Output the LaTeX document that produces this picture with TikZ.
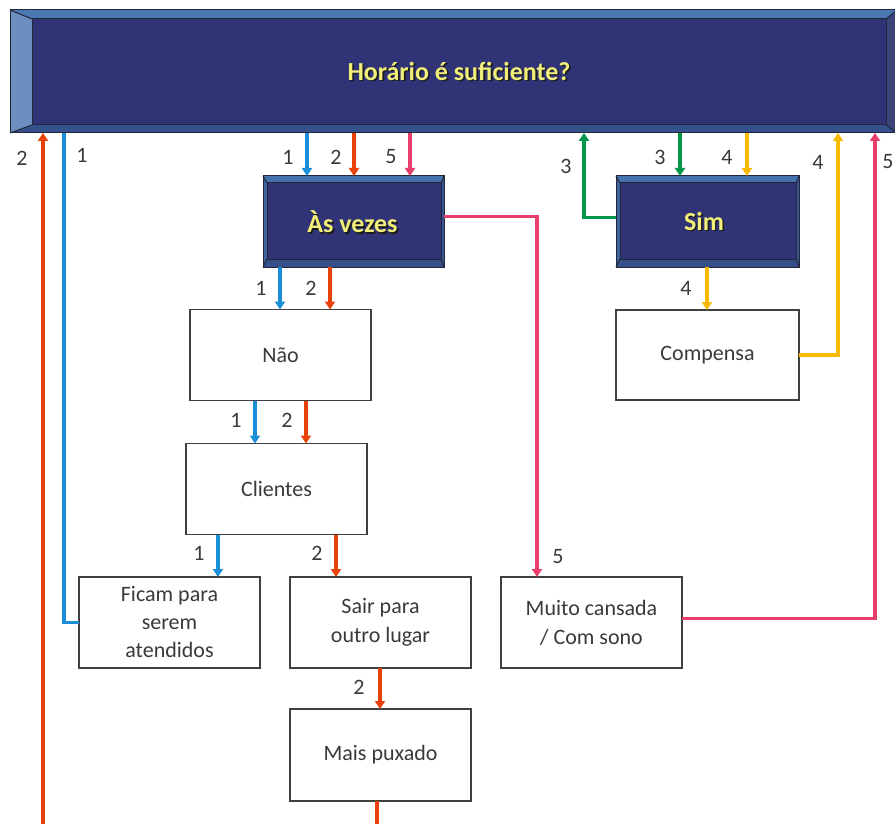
\documentclass[tikz,border=0pt]{standalone}
\usepackage{fontspec}
\setmainfont{Carlito}
\usetikzlibrary{arrows.meta,calc}

\definecolor{face}{HTML}{303476}
\definecolor{txtyellow}{HTML}{F2EE7A}
\definecolor{txtshadow}{HTML}{1A1A1A}
\definecolor{ink}{HTML}{3A3A3A}
\definecolor{boxline}{HTML}{404040}
\definecolor{edgeline}{HTML}{22263A}
\definecolor{btop}{HTML}{4574AC}
\definecolor{bbot}{HTML}{35508A}
\definecolor{bleft}{HTML}{3E64A0}
\definecolor{bright}{HTML}{3A5590}
\definecolor{Btop}{HTML}{4A78B0}
\definecolor{Bbot}{HTML}{35518C}
\definecolor{Bleft}{HTML}{6C8FC0}
\definecolor{Bright}{HTML}{3A4479}
\definecolor{cblueC}{HTML}{1A8ED8}
\definecolor{corangeC}{HTML}{E8420B}
\definecolor{cpinkC}{HTML}{E83E6C}
\definecolor{cgreenC}{HTML}{00964B}
\definecolor{cyellowC}{HTML}{F7BA00}

\tikzset{
  bevtop/.style={fill=btop},
  bevbot/.style={fill=bbot},
  bevleft/.style={fill=bleft},
  bevright/.style={fill=bright},
  bevline/.style={draw=edgeline, line width=1pt},
  bevnode/.style={fill=face, inner sep=0pt, outer sep=0pt},
  plainbox/.style={draw=boxline, line width=1.2pt, fill=white, inner sep=0pt, outer sep=0pt,
    minimum width=181pt, minimum height=91pt, align=center, text=ink,
    font=\fontsize{22}{28}\selectfont},
  numlabel/.style={text=ink, font=\fontsize{22}{24}\selectfont, inner sep=0pt},
  conn/.style={line width=3.5pt},
  tip/.style={-{Triangle[width=10pt,length=8pt]}},
  cblue/.style={conn, draw=cblueC},
  corange/.style={conn, draw=corangeC},
  cpink/.style={conn, draw=cpinkC},
  cgreen/.style={conn, draw=cgreenC},
  cyellow/.style={conn, draw=cyellowC},
}

% bevelled frame around a node: name, left, top, right, bottom insets
\newcommand\drawbevel[5]{%
  \fill[bevtop] (#1.north west) -- (#1.north east) -- ($(#1.north east)+(-#4,#3)$) -- ($(#1.north west)+(#2,#3)$) -- cycle;
  \fill[bevbot] (#1.south west) -- (#1.south east) -- ($(#1.south east)+(-#4,-#5)$) -- ($(#1.south west)+(#2,-#5)$) -- cycle;
  \fill[bevleft] (#1.north west) -- ($(#1.north west)+(#2,#3)$) -- ($(#1.south west)+(#2,-#5)$) -- (#1.south west) -- cycle;
  \fill[bevright] (#1.north east) -- ($(#1.north east)+(-#4,#3)$) -- ($(#1.south east)+(-#4,-#5)$) -- (#1.south east) -- cycle;
  \draw[bevline] ($(#1.north west)+(#2,#3)$) rectangle ($(#1.south east)+(-#4,-#5)$);
  \draw[bevline] (#1.north west) -- ++(#2,#3) (#1.north east) -- ++(-#4,#3)
                 (#1.south west) -- ++(#2,-#5) (#1.south east) -- ++(-#4,-#5);
  \draw[bevline] (#1.north west) rectangle (#1.south east);
}

% yellow title text with a dark drop shadow
\newcommand\shadowtext[3]{%
  \node[font=\fontsize{#3}{#3}\selectfont\bfseries, text=txtshadow, inner sep=0pt] at ($(#1)+(1.6,1.6)$) {#2};
  \node[font=\fontsize{#3}{#3}\selectfont\bfseries, text=txtyellow, inner sep=0pt] at (#1) {#2};
}

\begin{document}
\begin{tikzpicture}[x=1pt,y=-1pt]
\useasboundingbox (0,0) rectangle (895,824);

% ---------- question banner ----------
\node[bevnode, minimum width=887pt, minimum height=123pt] (top) at (453.5,71.5) {};
\begin{scope}[bevtop/.style={fill=Btop}, bevleft/.style={fill=Bleft},
              bevbot/.style={fill=Bbot}, bevright/.style={fill=Bright}]
  \drawbevel{top}{22}{9}{11}{8}
\end{scope}
\coordinate (toptext) at (459,71);
\shadowtext{toptext}{Horário é suficiente?}{26}

% ---------- answer boxes ----------
\node[bevnode, minimum width=181pt, minimum height=91pt] (asv) at (353.5,221.5) {};
\drawbevel{asv}{4}{7}{3}{8}
\coordinate (asvtext) at (352.5,222);
\shadowtext{asvtext}{Às vezes}{26}

\node[bevnode, minimum width=183pt, minimum height=91pt] (sim) at (707.5,221.5) {};
\drawbevel{sim}{4}{7}{3}{8}
\coordinate (simtext) at (704,221);
\shadowtext{simtext}{Sim}{26}

\node[plainbox] (nao) at (280.5,355) {Não};
\node[plainbox] (cli) at (276.5,489) {Clientes};
\node[plainbox] (ficam) at (169.5,622.5) {Ficam para\\serem\\atendidos};
\node[plainbox, font=\fontsize{22}{29}\selectfont] (sair) at (380.5,622.5) {Sair para\\outro lugar};
\node[plainbox, minimum height=92pt] (mais) at (380.5,755) {Mais puxado};
\node[plainbox, font=\fontsize{22}{29}\selectfont] (muito) at (591.5,622.5) {Muito cansada\\/ Com sono};
\node[plainbox, minimum width=183pt, minimum height=90pt] (comp) at (707.5,355) {Compensa};

% ---------- connector columns ----------
\coordinate (x43) at (43,0);
\coordinate (x64) at (64,0);
\coordinate (x218) at (218,0);
\coordinate (x255) at (255,0);
\coordinate (x280) at (280,0);
\coordinate (x306) at (306,0);
\coordinate (x307) at (307,0);
\coordinate (x330) at (330,0);
\coordinate (x336) at (336,0);
\coordinate (x354) at (354,0);
\coordinate (x377) at (377,0);
\coordinate (x380) at (380,0);
\coordinate (x410) at (410,0);
\coordinate (x537) at (537,0);
\coordinate (x584) at (584,0);
\coordinate (x680) at (680,0);
\coordinate (x707) at (707,0);
\coordinate (x747) at (747,0);
\coordinate (x838) at (838,0);
\coordinate (x875) at (875,0);
\coordinate (botA) at (43,830);
\coordinate (botB) at (377,830);

% path 1 (blue)
\draw[cblue, tip] (top.south -| x307) -- (asv.north -| x307);
\draw[cblue, tip] (asv.south -| x280) -- (nao.north -| x280);
\draw[cblue, tip] (nao.south -| x255) -- (cli.north -| x255);
\draw[cblue, tip] (cli.south -| x218) -- (ficam.north -| x218);
\draw[cblue] (ficam.west) -| (top.south -| x64);

% path 2 (orange)
\draw[corange, tip] (top.south -| x354) -- (asv.north -| x354);
\draw[corange, tip] (asv.south -| x330) -- (nao.north -| x330);
\draw[corange, tip, line width=4.5pt] (nao.south -| x306) -- (cli.north -| x306);
\draw[corange, tip] (cli.south -| x336) -- (sair.north -| x336);
\draw[corange, tip] (sair.south -| x380) -- (mais.north -| x380);
\draw[corange] (mais.south -| x377) -- (botB);
\draw[corange, tip] (botA) -- (top.south -| x43);

% path 3 (green)
\draw[cgreen, tip] (top.south -| x680) -- (sim.north -| x680);
\draw[cgreen, tip] ([yshift=4pt]sim.west) -| (top.south -| x584);

% path 4 (yellow)
\draw[cyellow, tip] (top.south -| x747) -- (sim.north -| x747);
\draw[cyellow, tip] (sim.south -| x707) -- (comp.north -| x707);
\draw[cyellow, tip] (comp.east) -| (top.south -| x838);

% path 5 (pink)
\draw[cpink, tip] (top.south -| x410) -- (asv.north -| x410);
\draw[cpink, tip] ([yshift=5pt]asv.east) -| (muito.north -| x537);
\draw[cpink, tip] ([yshift=4pt]muito.east) -| (top.south -| x875);

% ---------- step numbers ----------
\node[numlabel] (l2a) at (22,158) {2};
\node[numlabel] (l1a) at (82,155) {1};
\node[numlabel] (l1b) at (288,157) {1};
\node[numlabel] (l2b) at (336,157) {2};
\node[numlabel] (l5a) at (391,157) {5};
\node[numlabel] (l3a) at (566,166) {3};
\node[numlabel] (l3b) at (660,157) {3};
\node[numlabel] (l4a) at (727,157) {4};
\node[numlabel] (l4b) at (818,162) {4};
\node[numlabel] (l5b) at (888,162) {5};
\node[numlabel] (l1c) at (261,288) {1};
\node[numlabel] (l2c) at (311,288) {2};
\node[numlabel] (l4c) at (686,288) {4};
\node[numlabel] (l1d) at (236,420) {1};
\node[numlabel] (l2d) at (287,420) {2};
\node[numlabel] (l1e) at (199,553) {1};
\node[numlabel] (l2e) at (317,553) {2};
\node[numlabel] (l2f) at (359,687) {2};
\node[numlabel] (l5c) at (558,557) {5};
\end{tikzpicture}
\end{document}
